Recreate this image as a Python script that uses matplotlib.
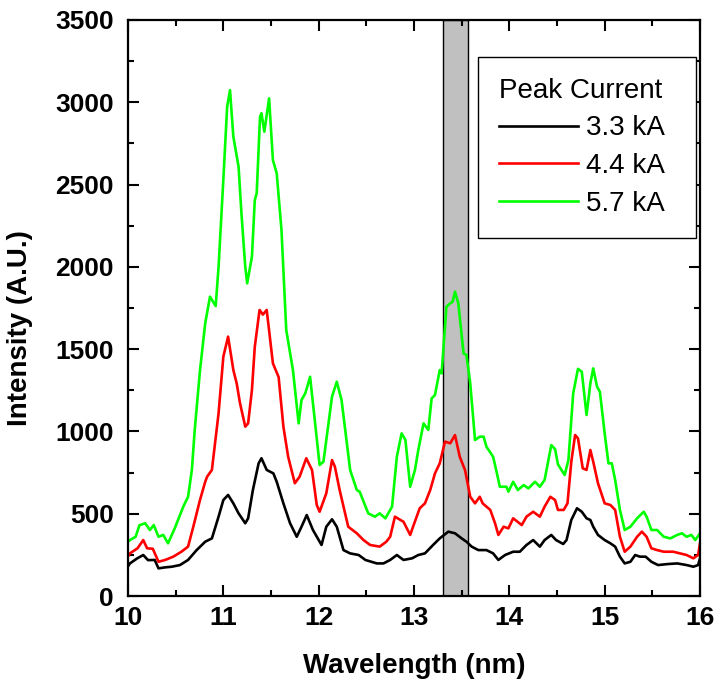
import matplotlib
matplotlib.use("Agg")
import matplotlib.pyplot as plt
from matplotlib.ticker import MultipleLocator

plt.rcParams["font.family"] = ["Liberation Sans", "DejaVu Sans"]

# wavelength (nm) / intensity (A.U.), per peak current
wl_33 = [10.00, 10.02, 10.10, 10.16, 10.21, 10.28, 10.32, 10.39, 10.46, 10.545,
         10.63, 10.72, 10.81, 10.88, 10.95, 11.00, 11.05, 11.105, 11.16, 11.23,
         11.26, 11.31, 11.37, 11.40, 11.455, 11.525, 11.56, 11.63, 11.70, 11.77,
         11.82, 11.875, 11.94, 12.03, 12.08, 12.14, 12.19, 12.26, 12.33, 12.42,
         12.49, 12.61, 12.68, 12.75, 12.82, 12.89, 12.98, 13.045, 13.115, 13.20,
         13.27, 13.36, 13.43, 13.50, 13.55, 13.605, 13.675, 13.76, 13.83, 13.885,
         13.955, 14.04, 14.11, 14.18, 14.25, 14.32, 14.37, 14.44, 14.49, 14.565,
         14.60, 14.65, 14.71, 14.76, 14.81, 14.85, 14.88, 14.93, 15.00, 15.06,
         15.11, 15.16, 15.21, 15.27, 15.32, 15.37, 15.43, 15.49, 15.56, 15.66,
         15.76, 15.86, 15.93, 15.98, 16.00]
int_33 = [180, 198, 230, 249, 218, 219, 168, 174, 178, 188,
          219, 279, 330, 350, 482, 583, 614, 563, 502, 442,
          472, 644, 806, 837, 766, 745, 694, 563, 442, 360,
          421, 492, 401, 310, 421, 466, 421, 279, 259, 249,
          219, 198, 198, 219, 249, 219, 229, 249, 259, 310,
          350, 391, 381, 350, 330, 300, 279, 279, 259, 219,
          249, 269, 269, 310, 340, 300, 340, 371, 340, 316,
          340, 462, 533, 512, 472, 462, 421, 371, 340, 320,
          300, 239, 198, 208, 249, 239, 239, 208, 188, 194,
          198, 188, 178, 188, 229]

wl_44 = [10.00, 10.02, 10.10, 10.16, 10.20, 10.26, 10.32, 10.39, 10.475, 10.56,
         10.63, 10.685, 10.755, 10.81, 10.83, 10.88, 10.95, 11.00, 11.05, 11.105,
         11.14, 11.175, 11.23, 11.26, 11.30, 11.33, 11.38, 11.415, 11.455, 11.52,
         11.58, 11.63, 11.68, 11.75, 11.80, 11.87, 11.93, 11.98, 12.01, 12.08,
         12.14, 12.17, 12.22, 12.31, 12.40, 12.47, 12.54, 12.64, 12.71, 12.75,
         12.80, 12.89, 12.96, 12.99, 13.06, 13.115, 13.17, 13.22, 13.27, 13.325,
         13.38, 13.43, 13.48, 13.535, 13.59, 13.64, 13.69, 13.72, 13.80, 13.85,
         13.885, 13.94, 13.99, 14.04, 14.13, 14.18, 14.25, 14.32, 14.37, 14.43,
         14.48, 14.51, 14.57, 14.61, 14.65, 14.69, 14.72, 14.77, 14.81, 14.85,
         14.88, 14.93, 15.00, 15.06, 15.11, 15.16, 15.21, 15.27, 15.34, 15.39,
         15.44, 15.49, 15.55, 15.62, 15.72, 15.79, 15.86, 15.93, 15.98, 16.00]
int_44 = [240, 259, 290, 340, 290, 287, 208, 219, 239, 269,
          300, 421, 583, 694, 725, 766, 1110, 1454, 1576, 1373,
          1292, 1171, 1029, 1049, 1252, 1515, 1738, 1710, 1738, 1414,
          1330, 1029, 846, 685, 725, 837, 766, 553, 512, 624,
          826, 786, 644, 421, 381, 340, 310, 300, 330, 360,
          482, 451, 371, 421, 533, 563, 644, 745, 806, 938,
          928, 978, 846, 766, 603, 563, 603, 563, 523, 442,
          371, 421, 411, 472, 431, 482, 512, 482, 543, 603,
          583, 523, 523, 563, 816, 978, 958, 776, 766, 887,
          816, 685, 563, 553, 523, 360, 269, 300, 360, 391,
          360, 290, 279, 269, 269, 259, 249, 229, 249, 320]

wl_57 = [10.00, 10.02, 10.08, 10.12, 10.18, 10.23, 10.27, 10.32, 10.37, 10.42,
         10.49, 10.58, 10.63, 10.67, 10.70, 10.755, 10.81, 10.86, 10.92, 10.95,
         11.00, 11.04, 11.07, 11.105, 11.16, 11.19, 11.23, 11.25, 11.30, 11.33,
         11.35, 11.385, 11.40, 11.43, 11.48, 11.52, 11.56, 11.61, 11.66, 11.73,
         11.79, 11.82, 11.86, 11.91, 11.94, 12.01, 12.05, 12.14, 12.19, 12.24,
         12.33, 12.40, 12.43, 12.52, 12.59, 12.64, 12.70, 12.77, 12.82, 12.87,
         12.91, 12.96, 13.01, 13.045, 13.10, 13.15, 13.185, 13.22, 13.27, 13.29,
         13.34, 13.38, 13.405, 13.43, 13.465, 13.52, 13.55, 13.59, 13.64, 13.69,
         13.73, 13.76, 13.83, 13.87, 13.90, 13.97, 13.99, 14.04, 14.09, 14.15,
         14.20, 14.27, 14.32, 14.37, 14.44, 14.48, 14.51, 14.58, 14.62, 14.67,
         14.72, 14.76, 14.81, 14.85, 14.88, 14.92, 14.95, 15.00, 15.04, 15.075,
         15.11, 15.16, 15.21, 15.27, 15.34, 15.41, 15.44, 15.49, 15.55, 15.62,
         15.69, 15.76, 15.81, 15.86, 15.91, 15.95, 16.00]
int_57 = [330, 340, 360, 430, 442, 401, 431, 360, 371, 320,
          411, 543, 603, 766, 1009, 1370, 1657, 1819, 1762, 2001,
          2528, 2973, 3074, 2791, 2608, 2325, 2001, 1900, 2062, 2406,
          2447, 2912, 2933, 2821, 3024, 2649, 2568, 2224, 1616, 1373,
          1049, 1191, 1232, 1332, 1171, 796, 816, 1211, 1302, 1191,
          766, 644, 634, 502, 482, 502, 472, 543, 846, 988,
          948, 664, 766, 887, 1049, 1009, 1201, 1221, 1373, 1353,
          1758, 1778, 1788, 1849, 1778, 1474, 1464, 1292, 948, 968,
          968, 907, 846, 745, 664, 664, 634, 694, 644, 674,
          654, 694, 664, 705, 917, 892, 800, 735, 826, 1232,
          1380, 1363, 1100, 1292, 1383, 1272, 1241, 988, 806, 806,
          705, 523, 401, 421, 472, 512, 482, 401, 401, 360,
          350, 371, 381, 360, 371, 340, 381]

series = [
    (wl_33, int_33, "black", "3.3 kA"),
    (wl_44, int_44, "#ff0000", "4.4 kA"),
    (wl_57, int_57, "#00ff00", "5.7 kA"),
]
band = (13.30, 13.57)

fig = plt.figure(figsize=(7.18, 6.82), dpi=100)
ax = fig.add_axes([128 / 718, 86 / 682, 572 / 718, 576 / 682])

ax.axvspan(band[0], band[1], facecolor="#c0c0c0", edgecolor="black",
           linewidth=1.0, zorder=1)

for x, y, color, label in series:
    ax.plot(x, y, color=color, linewidth=1.9, label=label, zorder=2)

ax.set_xlim(10, 16)
ax.set_ylim(0, 3500)
ax.xaxis.set_major_locator(MultipleLocator(1))
ax.xaxis.set_minor_locator(MultipleLocator(0.5))
ax.yaxis.set_major_locator(MultipleLocator(500))
ax.yaxis.set_minor_locator(MultipleLocator(250))

ax.tick_params(which="both", direction="in", top=True, right=True, width=1.5)
ax.tick_params(which="major", length=8, labelsize=19)
ax.tick_params(axis="x", which="major", pad=7)
ax.tick_params(axis="y", which="major", pad=10)
ax.tick_params(which="minor", length=4.5)
for lbl in ax.get_xticklabels() + ax.get_yticklabels():
    lbl.set_fontweight("bold")
for sp in ax.spines.values():
    sp.set_linewidth(1.6)

ax.set_xlabel("Wavelength (nm)", fontsize=20, fontweight="bold", labelpad=17)
ax.set_ylabel("Intensity (A.U.)", fontsize=20, fontweight="bold")
ax.yaxis.set_label_coords(-0.166, 0.465)

leg = ax.legend(title="Peak Current", loc="upper left",
                bbox_to_anchor=(0.612, 0.616, 0.381, 0.32), mode="expand",
                borderaxespad=0, fontsize=20, title_fontsize=20,
                fancybox=False, edgecolor="black", framealpha=1,
                handlelength=2.85, handletextpad=0.3, labelspacing=0.42,
                borderpad=0.75)
leg.get_frame().set_linewidth(1.0)
leg._legend_box.align = "left"

fig.savefig("out.png", dpi=100)
